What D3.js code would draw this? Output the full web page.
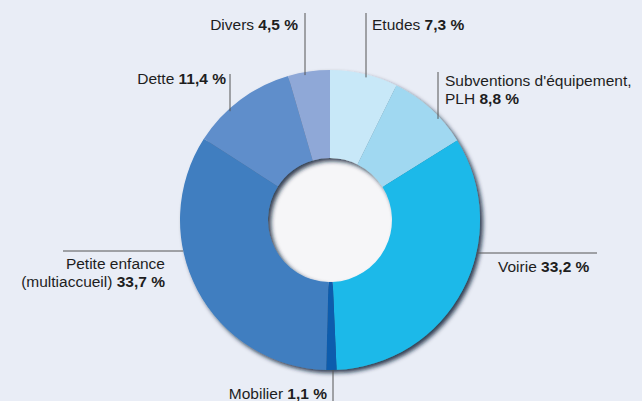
<!DOCTYPE html>
<html>
<head>
<meta charset="utf-8">
<script src="https://cdn.jsdelivr.net/npm/d3@7"></script>
<style>
  body { margin: 0; background: #e9edf6; }
  svg { display: block; font-family: "Liberation Sans", Arial, sans-serif; }
</style>
</head>
<body>
<div id="chart"></div>
<script>
// slices, clockwise from 12 o'clock
var categories = ["Etudes", "Subventions d'équipement, PLH", "Voirie", "Mobilier",
                  "Petite enfance (multiaccueil)", "Dette", "Divers"];
var values = [7.3, 8.8, 33.2, 1.1, 33.7, 11.4, 4.5];
var valueLabels = ["7,3 %", "8,8 %", "33,2 %", "1,1 %", "33,7 %", "11,4 %", "4,5 %"];
var colors = ["#c8e8f8", "#a0d8f1", "#1db9e9", "#0c5cad", "#3f7ec0", "#5f8ecb", "#8fa8d7"];

var width = 642, height = 401,
    cx = 330, cy = 220,
    outerR = 150, innerR = 62;

var svg = d3.select("#chart").append("svg")
    .attr("width", width)
    .attr("height", height);

var defs = svg.append("defs");
var f = defs.append("filter").attr("id", "shadow")
    .attr("x", "-20%").attr("y", "-20%").attr("width", "140%").attr("height", "140%");
f.append("feDropShadow")
    .attr("dx", 3).attr("dy", 3).attr("stdDeviation", 2.2)
    .attr("flood-color", "#071c36").attr("flood-opacity", 0.85);

var pie = d3.pie().sort(null).value(function(d) { return d; });
var arcs = pie(values);
var arc = d3.arc().innerRadius(innerR).outerRadius(outerR);

var g = svg.append("g").attr("transform", "translate(" + cx + "," + cy + ")");

// hole
g.append("circle").attr("r", innerR + 2).attr("fill", "#f6f6f8");

g.append("g").attr("filter", "url(#shadow)")
  .selectAll("path")
  .data(arcs).enter().append("path")
    .attr("d", arc)
    .attr("fill", function(d, i) { return colors[i]; });

// label layout: leader lines and text blocks
// type v = vertical line from arc edge up to y0; h = horizontal line from arc edge
var layout = [
  { type: "v", x: 366, y0: 13, tx: 372, ty: 30, anchor: "start", lines: ["Etudes "] },
  { type: "v", x: 438, y0: 72, tx: 445, ty: 86, anchor: "start", lines: ["Subventions d'équipement,", "PLH "] },
  { type: "h", side: 1, y: 253, x1: 597, tx: 498, ty: 272, anchor: "start", lines: ["Voirie "] },
  { type: "vb", x: 333, y1: 401, tx: 327, ty: 399, anchor: "end", lines: ["Mobilier "] },
  { type: "h", side: -1, y: 251, x1: 63, tx: 165, ty: 269, anchor: "end", lines: ["Petite enfance", "(multiaccueil) "] },
  { type: "v", x: 230, y0: 74, tx: 226, ty: 84, anchor: "end", lines: ["Dette "] },
  { type: "v", x: 305, y0: 13, tx: 298, ty: 30, anchor: "end", lines: ["Divers "] }
];

var ann = svg.append("g");
layout.forEach(function(L, i) {
  var line = ann.append("line").attr("stroke", "#555").attr("stroke-width", 1);
  if (L.type === "v") {
    var dy = Math.sqrt(outerR * outerR - (L.x - cx) * (L.x - cx));
    line.attr("x1", L.x).attr("x2", L.x).attr("y1", L.y0).attr("y2", cy - dy + 3);
  } else if (L.type === "vb") {
    var dyb = Math.sqrt(outerR * outerR - (L.x - cx) * (L.x - cx));
    line.attr("x1", L.x).attr("x2", L.x).attr("y1", cy + dyb).attr("y2", L.y1);
  } else {
    var dx = Math.sqrt(outerR * outerR - (L.y - cy) * (L.y - cy));
    line.attr("y1", L.y).attr("y2", L.y).attr("x1", cx + L.side * dx).attr("x2", L.x1);
  }

  L.lines.forEach(function(s, k) {
    var t = ann.append("text")
      .attr("x", L.tx)
      .attr("y", L.ty + k * 18)
      .attr("text-anchor", L.anchor)
      .attr("font-size", 15.5)
      .attr("fill", "#1e1e1e");
    t.append("tspan").text(s);
    if (k === L.lines.length - 1) {
      t.append("tspan").attr("font-weight", "bold").text(valueLabels[i]);
    }
  });
});
</script>
</body>
</html>
